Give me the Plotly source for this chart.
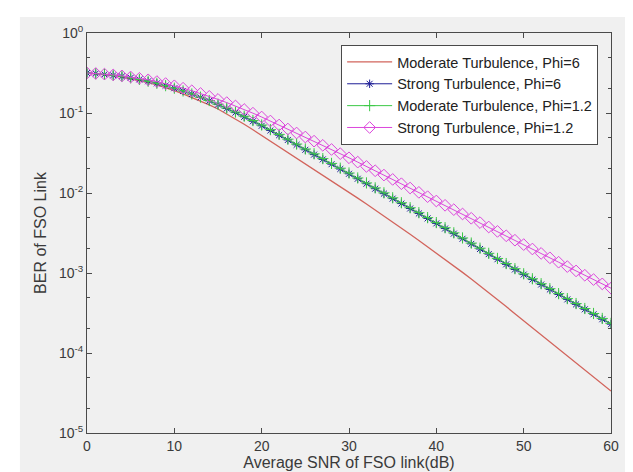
import numpy as np
import plotly.graph_objects as go

snr_db = list(range(0, 61))

# log10(BER), one value per dB
log_ber_moderate_phi6 = [
    -0.500, -0.508, -0.519, -0.533, -0.550, -0.570, -0.593, -0.619, -0.649, -0.682,
    -0.720, -0.760, -0.803, -0.849, -0.898, -0.950, -1.010, -1.074, -1.140, -1.209,
    -1.280, -1.349, -1.419, -1.489, -1.559, -1.630, -1.702, -1.774, -1.846, -1.918,
    -1.990, -2.064, -2.138, -2.212, -2.286, -2.360, -2.438, -2.516, -2.594, -2.672,
    -2.750, -2.830, -2.910, -2.992, -3.076, -3.160, -3.246, -3.332, -3.420, -3.508,
    -3.596, -3.684, -3.772, -3.860, -3.948, -4.036, -4.124, -4.212, -4.300, -4.388,
    -4.476]

log_ber_strong_phi6 = [
    -0.500, -0.507, -0.517, -0.529, -0.543, -0.560, -0.580, -0.603, -0.629, -0.658,
    -0.690, -0.725, -0.764, -0.805, -0.848, -0.895, -0.944, -0.995, -1.048, -1.103,
    -1.160, -1.218, -1.277, -1.337, -1.398, -1.460, -1.520, -1.580, -1.640, -1.700,
    -1.760, -1.822, -1.884, -1.946, -2.008, -2.070, -2.132, -2.194, -2.256, -2.318,
    -2.380, -2.444, -2.508, -2.572, -2.636, -2.700, -2.764, -2.828, -2.892, -2.956,
    -3.020, -3.082, -3.144, -3.206, -3.268, -3.330, -3.392, -3.454, -3.516, -3.578,
    -3.640]

log_ber_moderate_phi12 = [
    -0.500, -0.507, -0.517, -0.529, -0.543, -0.560, -0.580, -0.603, -0.629, -0.658,
    -0.690, -0.724, -0.762, -0.802, -0.844, -0.890, -0.938, -0.988, -1.040, -1.094,
    -1.150, -1.208, -1.267, -1.327, -1.388, -1.450, -1.510, -1.570, -1.630, -1.690,
    -1.750, -1.812, -1.874, -1.936, -1.998, -2.060, -2.122, -2.184, -2.246, -2.308,
    -2.370, -2.434, -2.498, -2.562, -2.626, -2.690, -2.754, -2.818, -2.882, -2.946,
    -3.010, -3.072, -3.134, -3.196, -3.258, -3.320, -3.382, -3.444, -3.506, -3.568,
    -3.630]

log_ber_strong_phi12 = [
    -0.500, -0.506, -0.514, -0.524, -0.536, -0.550, -0.566, -0.585, -0.607, -0.632,
    -0.660, -0.690, -0.722, -0.756, -0.792, -0.830, -0.870, -0.912, -0.956, -1.002,
    -1.050, -1.100, -1.150, -1.200, -1.250, -1.300, -1.352, -1.404, -1.456, -1.508,
    -1.560, -1.614, -1.668, -1.722, -1.776, -1.830, -1.884, -1.938, -1.992, -2.046,
    -2.100, -2.154, -2.208, -2.262, -2.316, -2.370, -2.425, -2.480, -2.535, -2.590,
    -2.645, -2.700, -2.755, -2.810, -2.865, -2.920, -2.974, -3.028, -3.082, -3.136,
    -3.190]

series_names = [
    "Moderate Turbulence, Phi=6",
    "Strong Turbulence, Phi=6",
    "Moderate Turbulence, Phi=1.2",
    "Strong Turbulence, Phi=1.2",
]

x_tick_vals = [0, 10, 20, 30, 40, 50, 60]
y_tick_exps = [0, -1, -2, -3, -4, -5]

FONT = "Liberation Sans, Arial, Helvetica, sans-serif"
TXT = "#3a3a3a"
AX = "#4a4a4a"

fig = go.Figure()

fig.add_trace(go.Scatter(
    x=snr_db, y=np.power(10.0, log_ber_moderate_phi6), name=series_names[0],
    mode="lines", line=dict(color="rgb(210,100,92)", width=1.3)))
fig.add_trace(go.Scatter(
    x=snr_db, y=np.power(10.0, log_ber_strong_phi6), name=series_names[1],
    mode="lines+markers", line=dict(color="rgb(30,30,150)", width=1),
    marker=dict(symbol="asterisk-open", size=7, color="rgb(30,30,150)",
                line=dict(width=1, color="rgb(30,30,150)"))))
fig.add_trace(go.Scatter(
    x=snr_db, y=np.power(10.0, log_ber_moderate_phi12), name=series_names[2],
    mode="lines+markers", line=dict(color="rgb(60,200,70)", width=1),
    marker=dict(symbol="cross-thin-open", size=8, color="rgb(60,200,70)",
                line=dict(width=1, color="rgb(60,200,70)"))))
fig.add_trace(go.Scatter(
    x=snr_db, y=np.power(10.0, log_ber_strong_phi12), name=series_names[3],
    mode="lines+markers", line=dict(color="rgb(220,70,220)", width=1),
    marker=dict(symbol="diamond-open", size=9, color="rgb(220,70,220)",
                line=dict(width=1, color="rgb(220,70,220)"))))

# grey figure background (MATLAB style) inside a thin white frame
fig.add_shape(type="rect", xref="paper", yref="paper",
              x0=-0.128, x1=1.05, y0=-0.12, y1=1.04,
              fillcolor="#f0f0f0", line=dict(width=0), layer="below")

axis_common = dict(
    showline=True, linecolor=AX, linewidth=1, mirror="ticks",
    ticks="inside", ticklen=5, tickcolor=AX, showgrid=False,
    zeroline=False, tickfont=dict(family=FONT, size=14, color=TXT),
)

fig.update_xaxes(
    range=[0, 60], tickvals=x_tick_vals, ticktext=[str(v) for v in x_tick_vals],
    title=dict(text="Average SNR of FSO link(dB)", font=dict(family=FONT, size=16, color=TXT),
               standoff=2),
    **axis_common)
fig.update_yaxes(
    type="log", range=[-5, 0],
    tickvals=[10.0 ** e for e in y_tick_exps],
    ticktext=["10<sup>%d</sup>" % e for e in y_tick_exps],
    minor=dict(ticks="inside", ticklen=3, tickcolor=AX, showgrid=False),
    title=dict(text="BER of FSO Link", font=dict(family=FONT, size=16, color=TXT),
               standoff=8),
    **axis_common)

fig.update_layout(
    width=633, height=472,
    margin=dict(l=79, r=30, t=25, b=47),
    paper_bgcolor="white", plot_bgcolor="white",
    font=dict(family=FONT, color=TXT),
    legend=dict(x=0.485, y=0.97, xanchor="left", yanchor="top",
                bgcolor="white", bordercolor=AX, borderwidth=1,
                font=dict(family=FONT, size=14.5, color="#222222"),
                itemwidth=45, tracegroupgap=0),
    showlegend=True,
)

fig.write_html("out.html")
